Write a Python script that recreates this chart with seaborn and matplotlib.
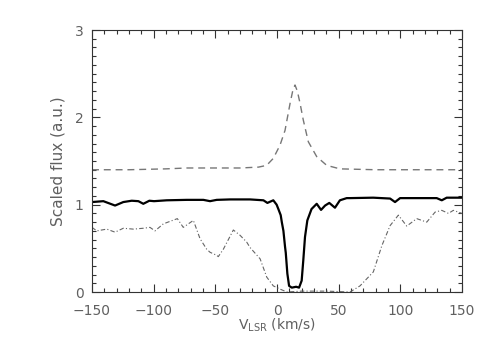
import numpy as np
import pandas as pd
import matplotlib
matplotlib.use("Agg")
import matplotlib.pyplot as plt
import seaborn as sns
from matplotlib.ticker import MultipleLocator

# Emission (dashed) spectrum
v_em = [-150, -120, -90, -73, -50, -30, -15, -8.4, -3, 2.4, 6.5, 10.6, 13, 14.6, 16.5, 18.7, 21.3, 25.4, 32.2, 40.3, 51, 80, 110, 150]
f_em = [1.40, 1.40, 1.41, 1.42, 1.42, 1.42, 1.43, 1.45, 1.53, 1.68, 1.85, 2.16, 2.32, 2.37, 2.30, 2.16, 1.97, 1.72, 1.55, 1.45, 1.41, 1.40, 1.40, 1.40]

# Absorption (solid) spectrum
v_ab = [-150, -140.8, -131.3, -124.6, -117.8, -112.4, -108.4, -103.5, -99.7, -89.4, -73.2, -59.7, -54.3, -48.9, -38, -21.9,
        -11, -7.8, -3, -0.3, 1.1, 3, 3.9, 5.2, 6.5, 7.1, 8.4, 9.8, 12, 15.5, 17.9, 20, 21.3, 22.7, 24.6, 28, 32.2, 35.7, 39,
        42.4, 47, 51, 56.5, 59.2, 78, 91.7, 95.7, 99.8, 129.5, 133.6, 137.6, 150]
f_ab = [1.03, 1.04, 0.99, 1.03, 1.045, 1.04, 1.01, 1.045, 1.04, 1.05, 1.055, 1.055, 1.04, 1.055, 1.06, 1.06,
        1.05, 1.02, 1.05, 1.00, 0.95, 0.88, 0.80, 0.70, 0.52, 0.45, 0.21, 0.07, 0.05, 0.06, 0.05, 0.13, 0.36, 0.63, 0.82, 0.95, 1.01, 0.94, 0.99,
        1.02, 0.965, 1.05, 1.075, 1.075, 1.08, 1.07, 1.03, 1.075, 1.075, 1.05, 1.08, 1.08]

# Reference (dash-dot) spectrum
v_rf = [-150, -146.2, -138, -131.3, -124.6, -116.5, -108.4, -103, -98.9, -92.2, -80.8, -76, -67.8, -62.4, -57, -54.3, -48.9, -47.6,
        -43.5, -35.4, -30, -24.5, -21.9, -13.7, -8.3, -3, 3, 8, 20, 40, 59.2, 67.3, 78.1, 85, 91.7, 98.4, 105.2, 113.3, 121.4,
        128.2, 133.6, 139, 143, 150]
f_rf = [0.74, 0.70, 0.72, 0.685, 0.73, 0.72, 0.73, 0.74, 0.70, 0.78, 0.84, 0.74, 0.82, 0.61, 0.49, 0.455, 0.42, 0.405,
        0.49, 0.71, 0.65, 0.57, 0.51, 0.38, 0.17, 0.07, 0.03, 0.0, 0.01, 0.01, 0.0, 0.07, 0.23, 0.53, 0.76, 0.88, 0.755, 0.84, 0.80,
        0.915, 0.935, 0.90, 0.935, 0.90]

df_em = pd.DataFrame({"v": v_em, "f": f_em})
df_ab = pd.DataFrame({"v": v_ab, "f": f_ab})
df_rf = pd.DataFrame({"v": v_rf, "f": f_rf})

sns.set_style("ticks")
plt.rcParams["font.family"] = ["DejaVu Sans"]
txt = "#606060"

fig = plt.figure(figsize=(4.91, 3.51), dpi=100)
ax = fig.add_axes([92/491, 1-292/351, 370/491, 262/351])

sns.lineplot(data=df_em, x="v", y="f", ax=ax, color="#777777", lw=1.0, linestyle=(0, (5, 3.5)))
sns.lineplot(data=df_ab, x="v", y="f", ax=ax, color="black", lw=1.6)
sns.lineplot(data=df_rf, x="v", y="f", ax=ax, color="#666666", lw=0.8, linestyle=(0, (4, 2, 1, 2)))

ax.set_xlim(-150, 150)
ax.set_ylim(0, 3)
ax.xaxis.set_major_locator(MultipleLocator(50))
ax.xaxis.set_minor_locator(MultipleLocator(10))
ax.yaxis.set_major_locator(MultipleLocator(1))
ax.yaxis.set_minor_locator(MultipleLocator(0.1))
ax.tick_params(which="both", direction="in", top=True, right=True, color="#333333", width=0.8,
               labelsize=10, labelcolor=txt)
ax.tick_params(which="major", length=6)
ax.tick_params(axis="x", which="major", pad=8.5)
ax.tick_params(axis="y", which="major", pad=6)
ax.tick_params(which="minor", length=3)
for s in ax.spines.values():
    s.set_visible(True)
    s.set_color("#333333")
    s.set_linewidth(0.8)

ax.set_xlabel(r"V$_{\rm LSR}$ (km/s)", fontsize=10, color=txt, labelpad=-1)
ax.set_ylabel("Scaled flux (a.u.)", fontsize=11, color=txt, labelpad=7)

fig.savefig("out.png", dpi=100)
